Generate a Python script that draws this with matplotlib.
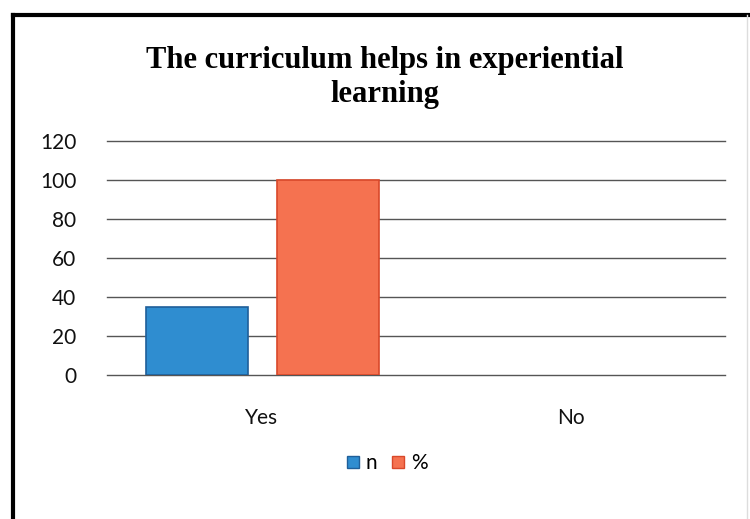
import matplotlib.pyplot as plt
from matplotlib.lines import Line2D
import numpy as np

# data
categories = ["Yes", "No"]
n_values = [35, 0]
pct_values = [100, 0]
series_labels = ["n", "%"]
y_ticks = [0, 20, 40, 60, 80, 100, 120]

BLUE = "#2f8dd0"
BLUE_EDGE = "#1f5f99"
ORANGE = "#f57250"
ORANGE_EDGE = "#d9482a"

fig = plt.figure(figsize=(7.5, 5.19), dpi=100)
ax = fig.add_axes([0.1427, 0.2775, 0.8240, 0.4509])

x = np.arange(len(categories))
w = 0.33
# zero-height bars draw nothing in the original, so drop their outline
ax.bar(x - 0.21, n_values, w, color=BLUE, edgecolor=BLUE_EDGE,
       lw=[1.2 if v else 0 for v in n_values], label=series_labels[0], zorder=3)
ax.bar(x + 0.215, pct_values, w, color=ORANGE, edgecolor=ORANGE_EDGE,
       lw=[1.2 if v else 0 for v in pct_values], label=series_labels[1], zorder=3)

ax.set_xlim(-0.5, 1.5)
ax.set_ylim(0, 120)
ax.set_yticks(y_ticks)
ax.set_yticklabels([str(t) for t in y_ticks], fontsize=15, family="Lato", color="#111111")
ax.set_xticks(x)
ax.set_xticklabels(categories, fontsize=15, family="Lato", color="#111111")
ax.tick_params(axis="both", length=0)
ax.tick_params(axis="y", pad=22)
ax.tick_params(axis="x", pad=24)
for s in ax.spines.values():
    s.set_visible(False)
ax.yaxis.grid(True, color="#555555", lw=1.0, zorder=0)
ax.set_axisbelow(True)
for gl in ax.get_ygridlines():
    gl.set_clip_on(False)   # keep the 0 and 120 lines full weight

fig.text(0.513, 0.851, "The curriculum helps in experiential\nlearning", ha="center", va="center",
         fontsize=22, fontweight="bold", family="Liberation Serif", linespacing=1.25)

handles = [Line2D([], [], marker="s", ls="", ms=9, mfc=BLUE, mec=BLUE_EDGE),
           Line2D([], [], marker="s", ls="", ms=9, mfc=ORANGE, mec=ORANGE_EDGE)]
fig.legend(handles, series_labels, loc="center", bbox_to_anchor=(0.515, 0.108), ncol=2, frameon=False,
           prop={"family": "Lato", "size": 15}, handletextpad=0.2, columnspacing=0.6, handlelength=0.8)

# chart frame (scanned: top and left edges visible)
fig.add_artist(Line2D([0.017, 0.017], [0.0, 0.971], color="black", lw=3, transform=fig.transFigure))
fig.add_artist(Line2D([0.017, 1.0], [0.971, 0.971], color="black", lw=3, transform=fig.transFigure))
fig.add_artist(Line2D([0.996, 0.996], [0.0, 0.971], color="#dddddd", lw=1, transform=fig.transFigure))

fig.savefig("out.png", dpi=100)
